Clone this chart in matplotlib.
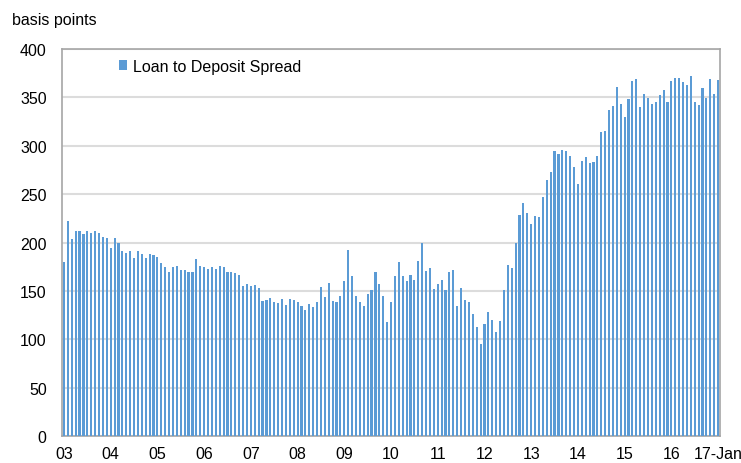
import numpy as np
import matplotlib
matplotlib.use('Agg')
import matplotlib.pyplot as plt
from matplotlib.patches import Patch

plt.rcParams['font.family'] = ['Liberation Sans', 'DejaVu Sans']

# monthly loan to deposit spread, Jan 2003 .. Jan 2017 (basis points)
spread_bp = [
    180, 222, 204, 212, 212, 209, 212, 210, 212, 210, 206, 205,   # 2003
    194, 205, 199, 191, 189, 191, 184, 191, 188, 184, 188, 187,   # 2004
    185, 179, 175, 170, 175, 176, 172, 172, 169, 170, 183, 176,   # 2005
    175, 173, 175, 173, 176, 175, 169, 170, 168, 166, 155, 157,   # 2006
    155, 156, 153, 140, 141, 143, 138, 137, 142, 135, 142, 141,   # 2007
    139, 134, 130, 136, 133, 138, 154, 144, 158, 140, 138, 145,   # 2008
    160, 192, 165, 145, 138, 134, 147, 151, 170, 157, 145, 118,   # 2009
    139, 165, 180, 165, 160, 166, 161, 181, 200, 171, 174, 152,   # 2010
    157, 161, 151, 169, 172, 134, 153, 141, 138, 126, 113, 95,    # 2011
    116, 128, 120, 108, 119, 151, 177, 174, 199, 228, 241, 230,   # 2012
    219, 227, 226, 247, 265, 273, 295, 292, 296, 295, 289, 278,   # 2013
    260, 284, 288, 282, 283, 289, 314, 315, 337, 341, 361, 343,   # 2014
    330, 348, 367, 369, 340, 354, 349, 343, 345, 352, 358, 345,   # 2015
    367, 370, 370, 366, 363, 372, 345, 342, 360, 349, 369, 353,   # 2016
    368,                                                          # 2017
]
year_labels = ['03', '04', '05', '06', '07', '08', '09', '10',
               '11', '12', '13', '14', '15', '16', '17-Jan']

bar_color = '#5B9BD5'
x = np.arange(len(spread_bp))

fig = plt.figure(figsize=(7.41, 4.64), dpi=100)
ax = fig.add_axes([0.0837, 0.0582, 0.888, 0.834])

ax.bar(x, spread_bp, width=0.55, color=bar_color, zorder=3)

ax.set_xlim(-0.5, len(spread_bp) - 0.5)
ax.set_ylim(0, 400)
ax.set_yticks(np.arange(0, 401, 50))
ticks = list(np.arange(0, 14 * 12, 12)) + [len(spread_bp) - 1]
ax.set_xticks(ticks)
ax.set_xticklabels(year_labels)
ax.tick_params(axis='both', length=0, labelsize=11.5, colors='black')
ax.tick_params(axis='x', pad=7)
ax.tick_params(axis='y', pad=11)

ax.grid(axis='y', color='#DCDCDC', linewidth=1.5, zorder=0)
for s in ax.spines.values():
    s.set_color('#A6A6A6')
    s.set_linewidth(1.2)

fig.text(12 / 741, 1 - 20 / 464, 'basis points', fontsize=11.5, va='center', ha='left')

handle = Patch(facecolor=bar_color, edgecolor='none')
ax.legend([handle], ['Loan to Deposit Spread'], loc='center left',
          bbox_to_anchor=(0.064, 0.955), frameon=False, fontsize=11.5,
          handlelength=0.55, handleheight=0.55, handletextpad=0.35)

fig.savefig('out.png', dpi=100)
